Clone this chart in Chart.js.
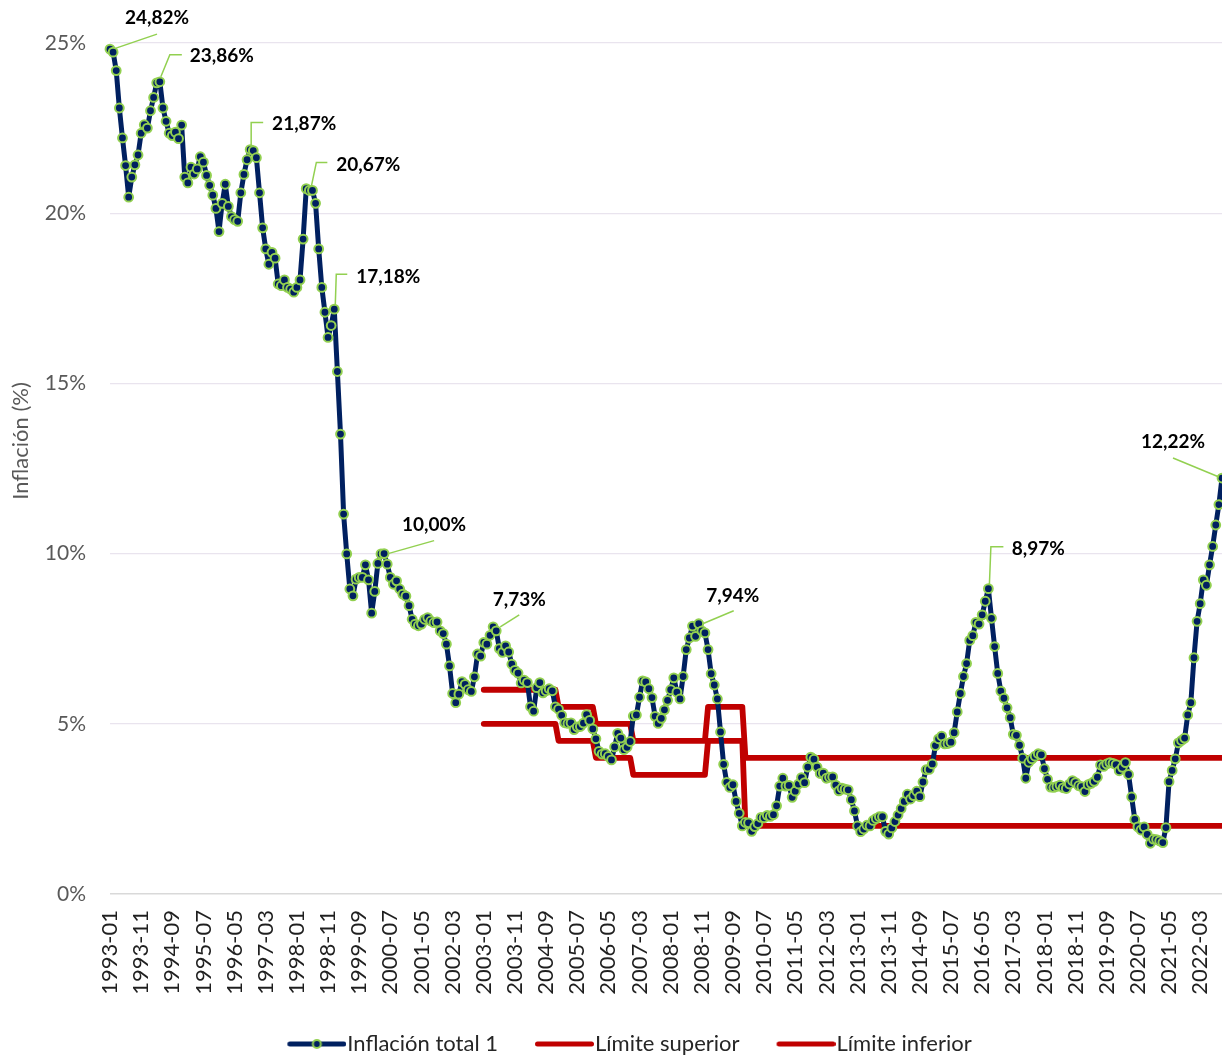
<!DOCTYPE html>
<html lang="es">
<head>
<meta charset="utf-8">
<title>Inflación total y rango meta</title>
<script src="https://cdn.jsdelivr.net/npm/chart.js@4.4.1/dist/chart.umd.min.js"></script>
<style>
  html, body { margin: 0; padding: 0; background: #fff; }
  #grafico { display: block; }
</style>
</head>
<body>
<canvas id="grafico" width="1222" height="1055"></canvas>
<script>
// serie mensual, enero 1993 a octubre 2022
const anioInicio = 1993;
const inflacion = [
  24.82, 24.73, 24.19, 23.09, 22.21, 21.40, 20.47, 21.06, 21.42, 21.71, 22.35, 22.60, // 1993
  22.50, 23.01, 23.40, 23.83, 23.86, 23.09, 22.70, 22.35, 22.28, 22.38, 22.19, 22.59, // 1994
  21.06, 20.89, 21.35, 21.15, 21.30, 21.66, 21.50, 21.11, 20.82, 20.53, 20.14, 19.46, // 1995
  20.29, 20.85, 20.20, 19.90, 19.81, 19.76, 20.60, 21.14, 21.57, 21.87, 21.84, 21.63, // 1996
  20.60, 19.57, 18.95, 18.50, 18.85, 18.68, 17.92, 17.87, 18.04, 17.82, 17.77, 17.68, // 1997
  17.82, 18.04, 19.24, 20.72, 20.67, 20.67, 20.29, 18.95, 17.82, 17.09, 16.35, 16.70, // 1998
  17.18, 15.35, 13.51, 11.16, 9.99, 8.96, 8.76, 9.25, 9.30, 9.30, 9.67, 9.23,         // 1999
  8.25, 8.89, 9.71, 9.99, 10.00, 9.69, 9.30, 9.10, 9.20, 8.96, 8.81, 8.75,            // 2000
  8.47, 8.07, 7.93, 7.88, 7.93, 8.07, 8.12, 8.02, 7.97, 7.99, 7.73, 7.65,             // 2001
  7.34, 6.70, 5.89, 5.62, 5.87, 6.24, 6.16, 6.00, 5.95, 6.38, 7.05, 6.99,             // 2002
  7.39, 7.34, 7.60, 7.85, 7.73, 7.21, 7.10, 7.29, 7.11, 6.75, 6.57, 6.49,             // 2003
  6.20, 6.28, 6.21, 5.50, 5.37, 6.06, 6.21, 5.91, 5.97, 6.03, 5.97, 5.50,             // 2004
  5.43, 5.25, 5.03, 5.01, 5.03, 4.83, 4.91, 4.92, 5.02, 5.27, 5.10, 4.85,             // 2005
  4.56, 4.19, 4.11, 4.12, 4.04, 3.94, 4.32, 4.72, 4.58, 4.24, 4.31, 4.48,             // 2006
  5.23, 5.26, 5.78, 6.26, 6.23, 6.03, 5.77, 5.22, 5.01, 5.16, 5.41, 5.69,             // 2007
  6.00, 6.35, 5.93, 5.73, 6.39, 7.18, 7.52, 7.87, 7.57, 7.94, 7.73, 7.67,             // 2008
  7.18, 6.47, 6.14, 5.73, 4.76, 3.81, 3.28, 3.13, 3.21, 2.72, 2.37, 2.00,             // 2009
  2.10, 2.09, 1.84, 1.98, 2.07, 2.25, 2.24, 2.31, 2.28, 2.33, 2.59, 3.17,             // 2010
  3.40, 3.17, 3.19, 2.84, 3.02, 3.23, 3.42, 3.27, 3.73, 4.02, 3.96, 3.73,             // 2011
  3.54, 3.55, 3.40, 3.43, 3.44, 3.20, 3.03, 3.11, 3.08, 3.06, 2.77, 2.44,             // 2012
  2.00, 1.83, 1.91, 2.02, 2.00, 2.16, 2.22, 2.27, 2.27, 1.84, 1.76, 1.94,             // 2013
  2.13, 2.32, 2.51, 2.72, 2.93, 2.79, 2.89, 3.02, 2.86, 3.29, 3.65, 3.66,             // 2014
  3.82, 4.36, 4.56, 4.64, 4.41, 4.42, 4.46, 4.74, 5.35, 5.89, 6.39, 6.77,             // 2015
  7.45, 7.59, 7.98, 7.93, 8.20, 8.60, 8.97, 8.10, 7.27, 6.48, 5.96, 5.75,             // 2016
  5.47, 5.18, 4.69, 4.66, 4.37, 3.99, 3.40, 3.87, 3.97, 4.05, 4.12, 4.09,             // 2017
  3.68, 3.37, 3.14, 3.13, 3.16, 3.20, 3.12, 3.10, 3.23, 3.33, 3.27, 3.18,             // 2018
  3.15, 3.01, 3.21, 3.25, 3.31, 3.43, 3.79, 3.75, 3.82, 3.86, 3.84, 3.80,             // 2019
  3.62, 3.72, 3.86, 3.51, 2.85, 2.19, 1.97, 1.88, 1.97, 1.75, 1.49, 1.61,             // 2020
  1.60, 1.56, 1.51, 1.95, 3.30, 3.63, 3.97, 4.44, 4.51, 4.58, 5.26, 5.62,             // 2021
  6.94, 8.01, 8.53, 9.23, 9.07, 9.67, 10.21, 10.84, 11.44, 12.22                      // 2022
];

// rango meta anual (desde 2003)
const metaAnioInicio = 2003;
const limiteSup = [6, 6, 5.5, 5, 4.5, 4.5, 5.5, 4, 4, 4, 4, 4, 4, 4, 4, 4, 4, 4, 4, 4];
const limiteInf = [5, 5, 4.5, 4, 3.5, 3.5, 4.5, 2, 2, 2, 2, 2, 2, 2, 2, 2, 2, 2, 2, 2];

// puntos con etiqueta
const etiquetasIdx = [0, 16, 45, 64, 72, 88, 124, 189, 282, 357];

const ejeYTicks = [0, 5, 10, 15, 20, 25];

const meses = inflacion.map((v, i) => {
  const a = anioInicio + Math.floor(i / 12);
  const m = (i % 12) + 1;
  return a + '-' + String(m).padStart(2, '0');
});

function serieMeta(lista) {
  return inflacion.map((v, i) => {
    const a = anioInicio + Math.floor(i / 12);
    return a < metaAnioInicio ? null : lista[a - metaAnioInicio];
  });
}

// posicion de las etiquetas respecto al punto
const posEtiquetas = [
  {dx: 47, dy: -31, guia: [[6, -1], [47, -15]]},
  {dx: 62, dy: -26, guia: [[1, -5], [10, -27], [22, -27]]},
  {dx: 54, dy: -26, guia: [[1, -4], [1, -27], [13, -27]]},
  {dx: 59, dy: -26, guia: [[2, -4], [7, -28], [18, -28]]},
  {dx: 54, dy: -32, guia: [[1, -4], [2, -35], [13, -35]]},
  {dx: 50, dy: -29, guia: [[4, 0], [50, -13]]},
  {dx: 23, dy: -31, guia: [[4, -4], [23, -16]]},
  {dx: 34, dy: -28, guia: [[4, 0], [35, -13]]},
  {dx: 50, dy: -40, guia: [[1, -4], [2.5, -42], [15, -42]]},
  {dx: -49, dy: -36, guia: [[-3, -1], [-49, -20]]}
];

const AZUL = '#002060';
const VERDE = '#92D050';
const ROJO = '#C00000';
const FUENTE = 'Lato';

function muestra(color, conPunto) {
  const c = document.createElement('canvas');
  c.width = 106; c.height = 14;
  const g = c.getContext('2d');
  g.strokeStyle = color;
  g.lineWidth = 5;
  g.lineCap = 'round';
  g.beginPath();
  g.moveTo(49.5, 7); g.lineTo(103.5, 7);
  g.stroke();
  if (conPunto) {
    g.beginPath();
    g.arc(76.5, 7, 4, 0, Math.PI * 2);
    g.fillStyle = AZUL; g.fill();
    g.lineWidth = 2; g.strokeStyle = VERDE; g.stroke();
  }
  return c;
}

const anotaciones = {
  id: 'anotaciones',
  afterDraw(chart) {
    const ctx = chart.ctx;
    const pts = chart.getDatasetMeta(0).data;
    ctx.save();
    etiquetasIdx.forEach((idx, k) => {
      const p = pts[idx];
      const pos = posEtiquetas[k];
      ctx.strokeStyle = VERDE;
      ctx.lineWidth = 1.5;
      ctx.beginPath();
      pos.guia.forEach(([gx, gy], j) => {
        if (j === 0) ctx.moveTo(p.x + gx, p.y + gy);
        else ctx.lineTo(p.x + gx, p.y + gy);
      });
      ctx.stroke();
      ctx.fillStyle = '#000';
      ctx.font = 'bold 19px ' + FUENTE;
      ctx.textAlign = 'center';
      ctx.textBaseline = 'middle';
      ctx.fillText(inflacion[idx].toFixed(2).replace('.', ',') + '%', p.x + pos.dx, p.y + pos.dy);
    });
    // titulo del eje y
    ctx.translate(21, 441);
    ctx.rotate(-Math.PI / 2);
    ctx.font = '22px ' + FUENTE;
    ctx.fillStyle = '#595959';
    ctx.textAlign = 'center';
    ctx.textBaseline = 'middle';
    ctx.fillText('Inflación (%)', 0, 0);
    ctx.restore();
  }
};

const ctx = document.getElementById('grafico').getContext('2d');
const chart = new Chart(ctx, {
  type: 'line',
  data: {
    labels: meses,
    datasets: [
      {
        label: 'Inflación total 1',
        data: inflacion,
        borderColor: AZUL,
        borderWidth: 5,
        borderJoinStyle: 'round',
        pointRadius: 4.4,
        pointBorderWidth: 2,
        pointBackgroundColor: AZUL,
        pointBorderColor: VERDE,
        tension: 0,
        clip: false
      },
      {
        label: 'Límite superior',
        data: serieMeta(limiteSup),
        borderColor: ROJO,
        borderWidth: 5.8,
        borderCapStyle: 'round',
        borderJoinStyle: 'round',
        pointRadius: 0,
        tension: 0,
        clip: false
      },
      {
        label: 'Límite inferior',
        data: serieMeta(limiteInf),
        borderColor: ROJO,
        borderWidth: 5.8,
        borderCapStyle: 'round',
        borderJoinStyle: 'round',
        pointRadius: 0,
        tension: 0,
        clip: false
      }
    ]
  },
  options: {
    responsive: false,
    animation: false,
    devicePixelRatio: 1,
    events: [],
    layout: {
      autoPadding: false,
      padding: {top: 43, left: 0, right: 0, bottom: -10}
    },
    scales: {
      x: {
        type: 'category',
        offset: false,
        grid: {display: false, drawTicks: false},
        border: {display: false},
        ticks: {
          autoSkip: false,
          maxRotation: 90,
          minRotation: 90,
          padding: 16,
          color: '#1F1F1F',
          font: {family: FUENTE, size: 22},
          callback: function (v, i) { return i % 10 === 0 ? meses[i] : ''; }
        },
        afterFit(scale) {
          scale.height = 139;
          scale.paddingLeft = 0;
          scale.paddingRight = 0;
        }
      },
      y: {
        min: 0,
        max: 25,
        grid: {
          drawTicks: false,
          color: (c) => c.tick && c.tick.value === 0 ? '#D9D9D9' : '#E9E4EE',
          lineWidth: (c) => c.tick && c.tick.value === 0 ? 1.6 : 1.2
        },
        border: {display: false},
        afterBuildTicks(scale) {
          scale.ticks = ejeYTicks.map(v => ({value: v}));
        },
        ticks: {
          padding: 24,
          color: '#595959',
          font: {family: FUENTE, size: 21},
          callback: (v) => v + '%'
        },
        afterFit(scale) {
          scale.width = 110;
          scale.paddingTop = 0;
          scale.paddingBottom = 0;
        }
      }
    },
    plugins: {
      legend: {
        position: 'bottom',
        labels: {
          usePointStyle: true,
          pointStyleWidth: 86,
          padding: 0,
          color: '#262626',
          font: {family: FUENTE, size: 22},
          generateLabels(chart) {
            return chart.data.datasets.map((ds, i) => ({
              text: ds.label,
              datasetIndex: i,
              hidden: false,
              lineWidth: 0,
              fontColor: '#262626',
              pointStyle: muestra(ds.borderColor, i === 0)
            }));
          }
        }
      },
      tooltip: {enabled: false}
    }
  },
  plugins: [anotaciones]
});
</script>
</body>
</html>
